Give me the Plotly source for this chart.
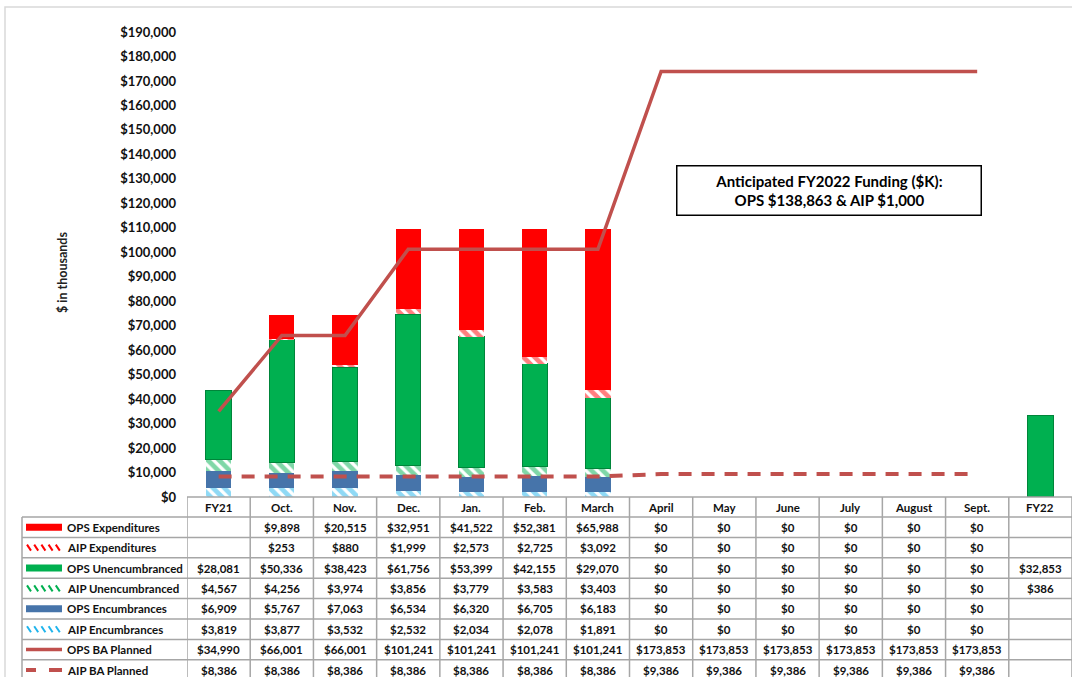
import plotly.graph_objects as go

# categories and series ($K)
months = ["FY21", "Oct.", "Nov.", "Dec.", "Jan.", "Feb.", "March",
          "April", "May", "June", "July", "August", "Sept.", "FY22"]

ops_exp = [None, 9898, 20515, 32951, 41522, 52381, 65988, 0, 0, 0, 0, 0, 0, None]
aip_exp = [None, 253, 880, 1999, 2573, 2725, 3092, 0, 0, 0, 0, 0, 0, None]
ops_unenc = [28081, 50336, 38423, 61756, 53399, 42155, 29070, 0, 0, 0, 0, 0, 0, 32853]
aip_unenc = [4567, 4256, 3974, 3856, 3779, 3583, 3403, 0, 0, 0, 0, 0, 0, 386]
ops_enc = [6909, 5767, 7063, 6534, 6320, 6705, 6183, 0, 0, 0, 0, 0, 0, None]
aip_enc = [3819, 3877, 3532, 2532, 2034, 2078, 1891, 0, 0, 0, 0, 0, 0, None]
ops_ba = [34990, 66001, 66001, 101241, 101241, 101241, 101241,
          173853, 173853, 173853, 173853, 173853, 173853, None]
aip_ba = [8386, 8386, 8386, 8386, 8386, 8386, 8386,
          9386, 9386, 9386, 9386, 9386, 9386, None]

funding_note = "Anticipated FY2022 Funding ($K):<br>OPS $138,863 & AIP $1,000"

RED = "#FF0000"
GREEN = "#00B050"
BLUE = "#4674AA"
LBLUE = "#1FB4EC"
LINE = "#C0504D"
FONT = "Lato"

W, H = 1072, 677
L, R, T, B = 187, 0, 32, 180


def px_x(px):
    # pixel -> paper x
    return (px - L) / (W - L - R)


def px_y(py):
    # pixel -> paper y
    return (H - B - py) / (H - T - B)


def hatch(color):
    return dict(shape="\\", fgcolor=color, bgcolor="white", size=8, solidity=0.6)


fig = go.Figure()

# stacked bars, bottom up
fig.add_bar(x=months, y=aip_enc, name="AIP Encumbrances",
            marker=dict(color=LBLUE, pattern=hatch(LBLUE), line_width=0))
fig.add_bar(x=months, y=ops_enc, name="OPS Encumbrances",
            marker=dict(color=BLUE, line_width=0))
fig.add_bar(x=months, y=aip_unenc, name="AIP Unencumbranced",
            marker=dict(color=GREEN, pattern=hatch(GREEN), line_width=0))
fig.add_bar(x=months, y=ops_unenc, name="OPS Unencumbranced",
            marker=dict(color=GREEN, line=dict(color="#00853A", width=1)))
fig.add_bar(x=months, y=aip_exp, name="AIP Expenditures",
            marker=dict(color=RED, pattern=hatch(RED), line_width=0))
fig.add_bar(x=months, y=ops_exp, name="OPS Expenditures",
            marker=dict(color=RED, line_width=0))

fig.add_scatter(x=months, y=ops_ba, mode="lines", name="OPS BA Planned",
                line=dict(color=LINE, width=3.5))
fig.add_scatter(x=months, y=aip_ba, mode="lines", name="AIP BA Planned",
                line=dict(color=LINE, width=4, dash="13px,10px"))

# ---- data table under the chart ----
rows = [
    ("OPS Expenditures", ops_exp, "solid", RED),
    ("AIP Expenditures", aip_exp, "hatch", RED),
    ("OPS Unencumbranced", ops_unenc, "solid", GREEN),
    ("AIP Unencumbranced", aip_unenc, "hatch", GREEN),
    ("OPS Encumbrances", ops_enc, "solid", BLUE),
    ("AIP Encumbrances", aip_enc, "hatch", LBLUE),
    ("OPS BA Planned", ops_ba, "line", LINE),
    ("AIP BA Planned", aip_ba, "dash", LINE),
]

grid = dict(color="#A6A6A6", width=1.5)
head_top, head_bot, row_h = 497, 517, 20.4
table_left = 22
cell_font = dict(size=11.5, family=FONT, weight="bold", color="#111")
shapes = []
annotations = []

# header row
for m in months:
    annotations.append(dict(x=m, xref="x", y=px_y((head_top + head_bot) / 2), yref="paper",
                            xanchor="center", yanchor="middle",
                            text=m, showarrow=False, font=cell_font))
shapes.append(dict(type="line", xref="x", yref="paper", x0=-0.5, x1=len(months) - 0.5,
                   y0=px_y(head_top), y1=px_y(head_top), line=grid))

# vertical grid lines
for i in range(len(months) + 1):
    shapes.append(dict(type="line", xref="x", yref="paper", x0=i - 0.5, x1=i - 0.5,
                       y0=px_y(head_top), y1=px_y(H + 10), line=grid))
shapes.append(dict(type="line", xref="paper", yref="paper", x0=px_x(table_left), x1=px_x(table_left),
                   y0=px_y(head_bot), y1=px_y(H + 10), line=grid))

for r, (label, vals, kind, color) in enumerate(rows):
    top = head_bot + r * row_h
    mid = top + row_h / 2
    cy = px_y(mid)
    shapes.append(dict(type="line", xref="paper", yref="paper", x0=px_x(table_left), x1=1.0,
                       y0=px_y(top), y1=px_y(top), line=grid))
    annotations.append(dict(x=px_x(65), xref="paper", y=cy, yref="paper",
                            xanchor="left", yanchor="middle",
                            text=label, showarrow=False, font=cell_font))
    for m, v in zip(months, vals):
        if v is None:
            continue
        annotations.append(dict(x=m, xref="x", y=cy, yref="paper", text=f"${v:,}",
                                xanchor="center", yanchor="middle",
                                showarrow=False, font=cell_font))
    # legend key
    if kind == "solid":
        shapes.append(dict(type="rect", xref="paper", yref="paper", x0=px_x(26), x1=px_x(62),
                           y0=px_y(mid - 3.5), y1=px_y(mid + 3.5), fillcolor=color, line_width=0))
    elif kind == "hatch":
        for k in range(5):
            sx = 27 + k * 7.2
            shapes.append(dict(type="line", xref="paper", yref="paper", x0=px_x(sx), x1=px_x(sx + 4),
                               y0=px_y(mid - 3), y1=px_y(mid + 3), line=dict(color=color, width=2)))
    elif kind == "line":
        shapes.append(dict(type="line", xref="paper", yref="paper", x0=px_x(26), x1=px_x(62),
                           y0=px_y(mid), y1=px_y(mid), line=dict(color=color, width=3.5)))
    else:
        for a, b in ((26, 36), (49, 62)):
            shapes.append(dict(type="line", xref="paper", yref="paper", x0=px_x(a), x1=px_x(b),
                               y0=px_y(mid), y1=px_y(mid), line=dict(color=color, width=4)))

# outer chart border
shapes.append(dict(type="rect", xref="paper", yref="paper", x0=px_x(5), x1=px_x(W + 20),
                   y0=px_y(H + 20), y1=px_y(7), line=dict(color="#D9D9D9", width=1.5)))

# y title and funding box
annotations.append(dict(x=px_x(62), xref="paper", y=px_y(273), yref="paper", text="$ in thousands",
                        xanchor="center", yanchor="middle", textangle=-90, showarrow=False,
                        font=dict(size=12.5, family=FONT, weight="bold", color="#222")))
annotations.append(dict(x=px_x(828.5), xref="paper", y=px_y(190), yref="paper", text=funding_note,
                        xanchor="center", yanchor="middle",
                        showarrow=False, width=301, height=46, borderpad=1,
                        bordercolor="black", borderwidth=1.5, bgcolor="white",
                        font=dict(size=15, family=FONT, weight="bold", color="black")))

fig.update_layout(
    width=W, height=H,
    margin=dict(l=L, r=R, t=T, b=B, pad=0),
    barmode="stack",
    bargap=0.6,
    showlegend=False,
    plot_bgcolor="white",
    paper_bgcolor="white",
    font=dict(family=FONT, color="black"),
    shapes=shapes,
    annotations=annotations,
    xaxis=dict(showticklabels=False, showgrid=False, zeroline=False, showline=False,
               range=[-0.5, len(months) - 0.5]),
    yaxis=dict(range=[0, 190000], dtick=10000, tickformat="$,", showgrid=False,
               zeroline=False, showline=False, ticks="", ticklabelstandoff=10,
               tickfont=dict(size=13, family=FONT, weight="bold", color="#111")),
)

# drop the default page margin so the figure sits at the window's corner
fig.write_html("out.html", config={"displayModeBar": False},
               post_script="document.body.style.margin='0';")
